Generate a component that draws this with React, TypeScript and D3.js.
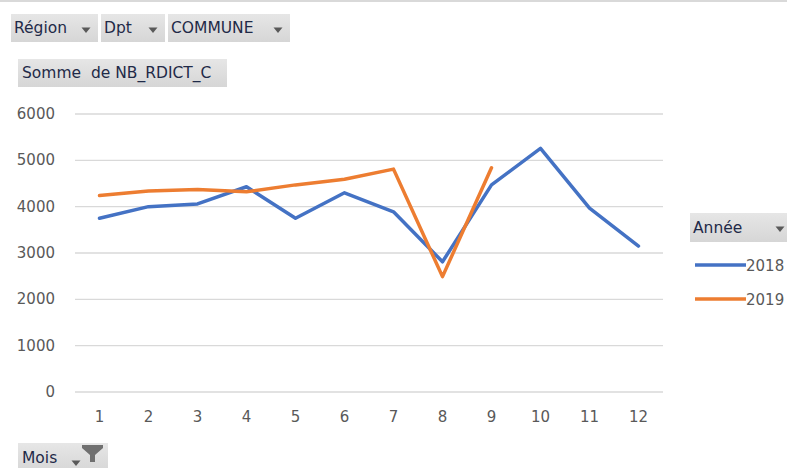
import React, { useEffect, useRef } from "react";
import * as d3 from "d3";

const months = ["1", "2", "3", "4", "5", "6", "7", "8", "9", "10", "11", "12"];
const values2018 = [3750, 4000, 4060, 4430, 3750, 4300, 3890, 2810, 4470, 5260, 3970, 3150];
const values2019 = [4240, 4340, 4370, 4320, 4470, 4590, 4810, 2490, 4840];
const yTicks = [0, 1000, 2000, 3000, 4000, 5000, 6000];
const seriesNames = ["2018", "2019"];
const filterButtons = ["Région", "Dpt", "COMMUNE"];

const width = 787;
const height = 468;
const font = "'DejaVu Sans', Verdana, sans-serif";

const App = () => {
  const ref = useRef<SVGSVGElement>(null);

  useEffect(() => {
    const svg = d3.select(ref.current);
    svg.selectAll("*").remove();

    const defs = svg.append("defs");
    const grad = defs
      .append("linearGradient")
      .attr("id", "btn")
      .attr("x1", 0)
      .attr("y1", 0)
      .attr("x2", 0)
      .attr("y2", 1);
    grad.append("stop").attr("offset", "0%").attr("stop-color", "#e6e6e6");
    grad.append("stop").attr("offset", "100%").attr("stop-color", "#d6d6d6");

    // top border line
    svg
      .append("rect")
      .attr("x", 0)
      .attr("y", 0)
      .attr("width", width)
      .attr("height", 2)
      .attr("fill", "#d9d9d9");

    const x = d3.scaleBand().domain(months).range([75, 663]);
    const y = d3.scaleLinear().domain([0, 6000]).range([392, 114]);
    const cx = (m: string) => (x(m) as number) + x.bandwidth() / 2;

    // gridlines
    svg
      .append("g")
      .selectAll("line")
      .data(yTicks)
      .enter()
      .append("line")
      .attr("x1", 75)
      .attr("x2", 663)
      .attr("y1", (d) => y(d))
      .attr("y2", (d) => y(d))
      .attr("stroke", "#d9d9d9")
      .attr("stroke-width", 1.3);

    // y labels
    svg
      .append("g")
      .selectAll("text")
      .data(yTicks)
      .enter()
      .append("text")
      .attr("x", 55)
      .attr("y", (d) => y(d) + 5)
      .attr("text-anchor", "end")
      .attr("font-family", font)
      .attr("font-size", 15)
      .attr("fill", "#595959")
      .text((d) => d);

    // x labels
    svg
      .append("g")
      .selectAll("text")
      .data(months)
      .enter()
      .append("text")
      .attr("x", (d) => cx(d))
      .attr("y", 422)
      .attr("text-anchor", "middle")
      .attr("font-family", font)
      .attr("font-size", 15)
      .attr("fill", "#595959")
      .text((d) => d);

    const line = d3
      .line<number>()
      .x((d, i) => cx(months[i]))
      .y((d) => y(d));

    const colors = ["#4472c4", "#ed7d31"];
    [values2018, values2019].forEach((vals, i) => {
      svg
        .append("path")
        .datum(vals)
        .attr("fill", "none")
        .attr("stroke", colors[i])
        .attr("stroke-width", 3.5)
        .attr("stroke-linejoin", "round")
        .attr("stroke-linecap", "round")
        .attr("d", line);
    });

    // button helper
    const button = (bx: number, by: number, bw: number, bh: number, label: string, tx: number) => {
      const g = svg.append("g");
      g.append("rect")
        .attr("x", bx)
        .attr("y", by)
        .attr("width", bw)
        .attr("height", bh)
        .attr("fill", "url(#btn)");
      g.append("text")
        .attr("x", tx)
        .attr("y", by + bh / 2 + 5)
        .attr("font-family", font)
        .attr("font-size", 15.5)
        .attr("fill", "#1f2a48")
        .style("white-space", "pre")
        .text(label);
      return g;
    };
    const arrow = (ax: number, ay: number) => {
      svg
        .append("path")
        .attr("d", `M${ax - 4.5},${ay - 2.5}L${ax + 4.5},${ay - 2.5}L${ax},${ay + 3}Z`)
        .attr("fill", "#595959");
    };

    // filter buttons
    const btnX = [11, 101, 168];
    const btnW = [87, 64, 122];
    filterButtons.forEach((b, i) => {
      button(btnX[i], 14, btnW[i], 28, b, btnX[i] + 3);
      arrow(btnX[i] + btnW[i] - 12, 30);
    });

    button(18, 59, 209, 28, "Somme  de NB_RDICT_C", 22);

    // legend
    button(690, 213, 100, 29, "Année", 693);
    arrow(780, 229);
    seriesNames.forEach((s, i) => {
      const ly = 265 + i * 34;
      svg
        .append("line")
        .attr("x1", 695)
        .attr("x2", 746)
        .attr("y1", ly)
        .attr("y2", ly)
        .attr("stroke", colors[i])
        .attr("stroke-width", 3.5);
      svg
        .append("text")
        .attr("x", 746)
        .attr("y", ly + 6)
        .attr("font-family", font)
        .attr("font-size", 15)
        .attr("fill", "#595959")
        .text(s);
    });

    // Mois button with filter icon
    button(18, 443, 90, 30, "Mois", 22);
    arrow(76, 463);
    svg
      .append("path")
      .attr("d", "M82,445L103,445L103,448L95,455L95,462L90,462L90,455L82,448Z")
      .attr("fill", "#707070");
  }, []);

  return (
    <svg
      ref={ref}
      width={width}
      height={height}
      style={{ position: "absolute", left: 0, top: 0, background: "#fff" }}
    />
  );
};

export default App;
